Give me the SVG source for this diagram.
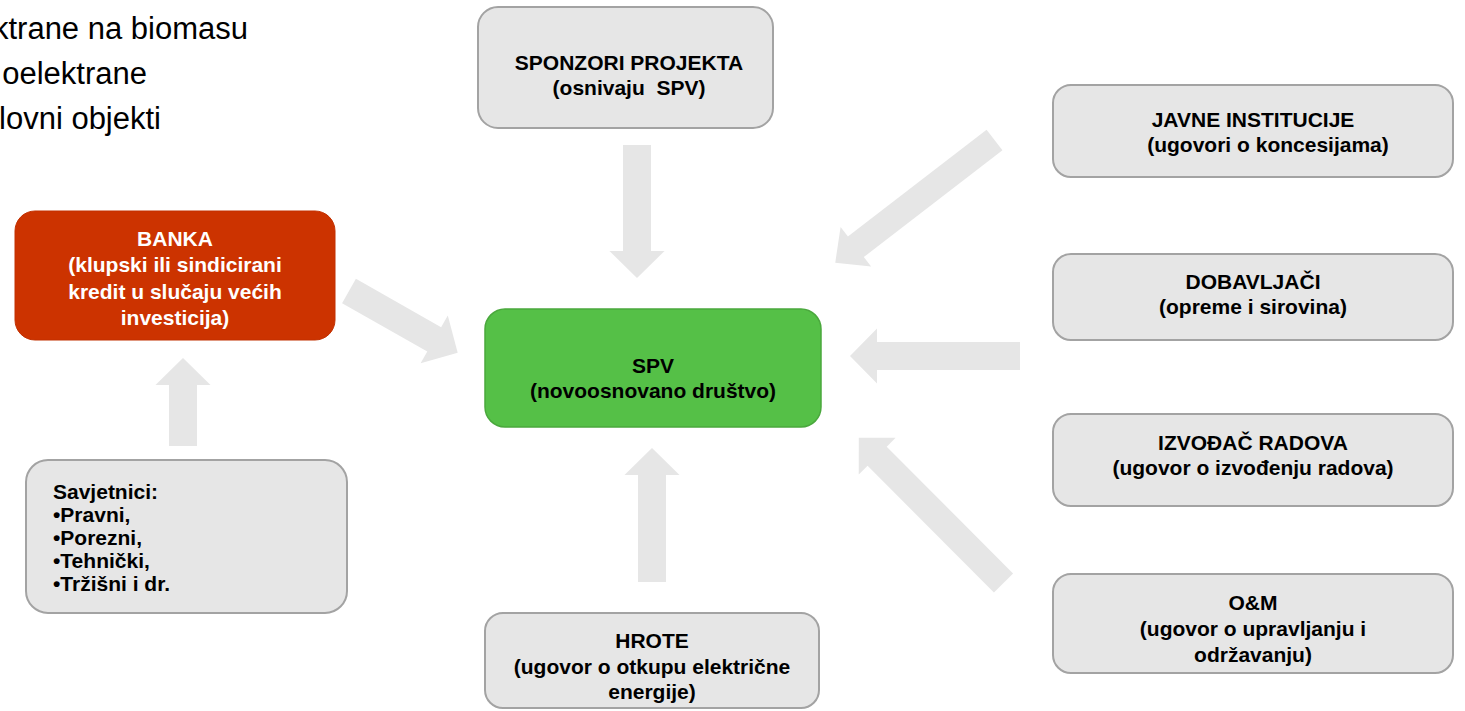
<svg xmlns="http://www.w3.org/2000/svg" width="1465" height="711" viewBox="0 0 1465 711">
<style>
.bg{fill:#ffffff}
.box{fill:#e6e6e6;stroke:#a3a3a3;stroke-width:2}
.red{fill:#cc3300;stroke:#c23000;stroke-width:1}
.green{fill:#55c047;stroke:#4aa83d;stroke-width:1.5}
.arrow{fill:#e6e6e6;stroke:none}
.t{font-family:"Liberation Sans",Arial,sans-serif;font-size:21px;font-weight:bold;fill:#000;text-anchor:middle}
.tw{fill:#ffffff}
.tl{text-anchor:start}
.top{font-family:"Liberation Sans",Arial,sans-serif;font-size:31px;fill:#000;text-anchor:end}
</style>
<rect class="bg" x="0" y="0" width="1465" height="711"/>

<g id="intro">
<text class="top" x="248" y="39">ktrane na biomasu</text>
<text class="top" x="147" y="84">oelektrane</text>
<text class="top" x="161" y="129">lovni objekti</text>
</g>

<g id="connectors">
<polygon class="arrow" transform="translate(637,145) rotate(90)" points="0,-14 106,-14 106,-27.5 133,0 106,27.5 106,14 0,14"/>
<polygon class="arrow" transform="translate(652,582) rotate(-90)" points="0,-14 107,-14 107,-27.5 134,0 107,27.5 107,14 0,14"/>
<polygon class="arrow" transform="translate(183,446) rotate(-90)" points="0,-14 61,-14 61,-27.5 88,0 61,27.5 61,14 0,14"/>
<polygon class="arrow" transform="translate(349,291) rotate(29.6)" points="0,-14 98,-14 98,-27.5 125,0 98,27.5 98,14 0,14"/>
<polygon class="arrow" transform="translate(994.5,140) rotate(142.4)" points="0,-13 175,-13 175,-25 201,0 175,25 175,13 0,13"/>
<polygon class="arrow" transform="translate(1020,356) rotate(180)" points="0,-14 143,-14 143,-27.5 170,0 143,27.5 143,14 0,14"/>
<polygon class="arrow" transform="translate(1003.5,583) rotate(225.1)" points="0,-13.5 179,-13.5 179,-26 205,0 179,26 179,13.5 0,13.5"/>
</g>

<g id="banka">
<rect class="red" x="15" y="211" width="320" height="129" rx="20"/>
<text class="t tw" x="175" y="246">BANKA</text>
<text class="t tw" x="175" y="272">(klupski ili sindicirani</text>
<text class="t tw" x="175" y="299">kredit u slučaju većih</text>
<text class="t tw" x="175" y="325">investicija)</text>
</g>

<g id="savjetnici">
<rect class="box" x="26" y="460" width="321" height="153" rx="22"/>
<text class="t tl" x="53" y="499">Savjetnici:</text>
<text class="t tl" x="53" y="522">•Pravni,</text>
<text class="t tl" x="53" y="545">•Porezni,</text>
<text class="t tl" x="53" y="568">•Tehnički,</text>
<text class="t tl" x="53" y="591">•Tržišni i dr.</text>
</g>

<g id="sponzori">
<rect class="box" x="478" y="7" width="295" height="121" rx="20"/>
<text class="t" x="629" y="70">SPONZORI PROJEKTA</text>
<text class="t" x="629" y="95" xml:space="preserve">(osnivaju  SPV)</text>
</g>

<g id="spv">
<rect class="green" x="485" y="309" width="336" height="118" rx="20"/>
<text class="t" x="653" y="373">SPV</text>
<text class="t" x="653" y="398">(novoosnovano društvo)</text>
</g>

<g id="hrote">
<rect class="box" x="485" y="613" width="334" height="95" rx="18"/>
<text class="t" x="652" y="648">HROTE</text>
<text class="t" x="652" y="674">(ugovor o otkupu električne</text>
<text class="t" x="652" y="699">energije)</text>
</g>

<g id="javne">
<rect class="box" x="1053" y="85" width="400" height="92" rx="18"/>
<text class="t" x="1253" y="127">JAVNE INSTITUCIJE</text>
<text class="t" x="1268" y="152">(ugovori o koncesijama)</text>
</g>

<g id="dobavljaci">
<rect class="box" x="1053" y="254" width="400" height="86" rx="18"/>
<text class="t" x="1253" y="289">DOBAVLJAČI</text>
<text class="t" x="1253" y="314">(opreme i sirovina)</text>
</g>

<g id="izvodjac">
<rect class="box" x="1053" y="414" width="400" height="92" rx="18"/>
<text class="t" x="1253" y="450">IZVOĐAČ RADOVA</text>
<text class="t" x="1253" y="475">(ugovor o izvođenju radova)</text>
</g>

<g id="om">
<rect class="box" x="1053" y="574" width="400" height="99" rx="18"/>
<text class="t" x="1253" y="610">O&amp;M</text>
<text class="t" x="1253" y="636">(ugovor o upravljanju i</text>
<text class="t" x="1253" y="662">održavanju)</text>
</g>
</svg>
